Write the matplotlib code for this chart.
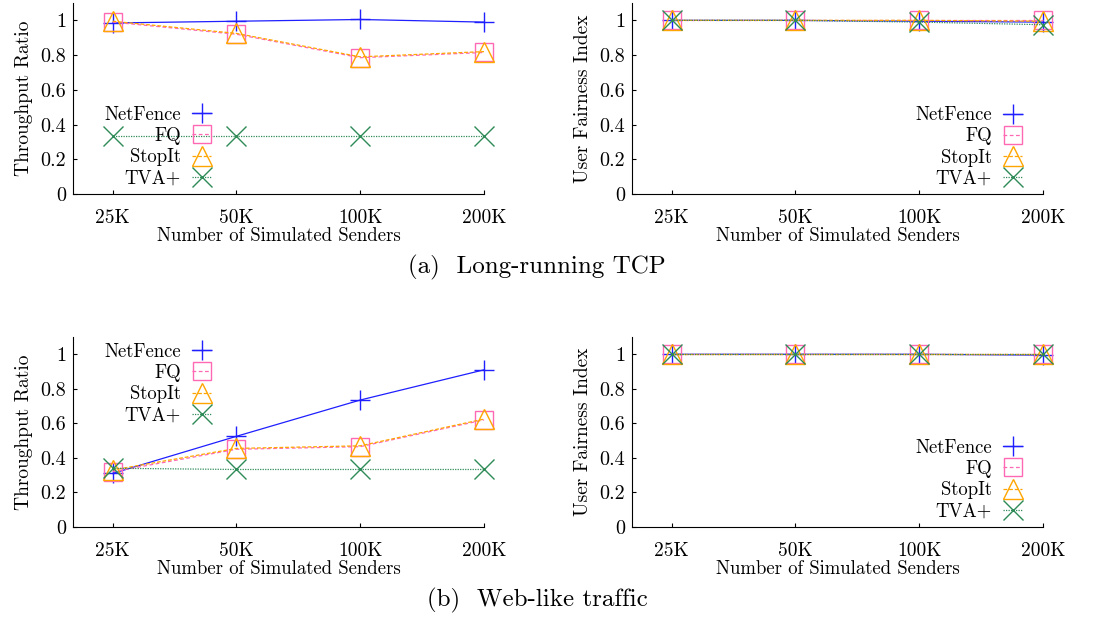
import matplotlib
matplotlib.use("Agg")
import matplotlib.pyplot as plt

plt.rcParams['font.family'] = ['cmr10', 'DejaVu Serif']
plt.rcParams['axes.formatter.use_mathtext'] = True
plt.rcParams['font.size'] = 13.5

senders = ["25K", "50K", "100K", "200K"]
schemes = ["NetFence", "FQ", "StopIt", "TVA+"]

# (a) long-running TCP
tcp_ratio = {
    "NetFence": [0.985, 0.995, 1.005, 0.99],
    "FQ": [0.99, 0.92, 0.785, 0.815],
    "StopIt": [0.995, 0.925, 0.79, 0.82],
    "TVA+": [0.333, 0.333, 0.333, 0.333],
}
tcp_fair = {
    "NetFence": [1.0, 1.0, 0.995, 0.99],
    "FQ": [1.0, 1.0, 1.0, 1.0],
    "StopIt": [1.0, 1.0, 1.0, 0.995],
    "TVA+": [1.0, 1.0, 0.99, 0.975],
}
# (b) web-like traffic
web_ratio = {
    "NetFence": [0.31, 0.525, 0.735, 0.91],
    "FQ": [0.32, 0.45, 0.465, 0.62],
    "StopIt": [0.33, 0.455, 0.47, 0.625],
    "TVA+": [0.34, 0.333, 0.333, 0.333],
}
web_fair = {
    "NetFence": [1.0, 1.0, 1.0, 0.995],
    "FQ": [1.0, 1.0, 1.0, 1.0],
    "StopIt": [1.0, 1.0, 1.0, 1.0],
    "TVA+": [1.0, 1.0, 1.0, 1.0],
}

styles = {
    "NetFence": dict(color="#1f1fff", ls="-", marker="+"),
    "FQ": dict(color="#ff69b4", ls=(0, (3, 2)), marker="s"),
    "StopIt": dict(color="#ffa500", ls=(0, (3, 1.5)), marker="^"),
    "TVA+": dict(color="#2e8b57", ls=(0, (1, 1)), marker="x"),
}
msize = {"NetFence": 15, "FQ": 13, "StopIt": 14, "TVA+": 14}

fig = plt.figure(figsize=(11.07, 6.17), dpi=100)

W, H = 1107, 617
panels = [
    (73, 194, 3, tcp_ratio, "Throughput Ratio", (211, 146.5)),
    (632, 194, 3, tcp_fair, "User Fairness Index", (1022, 147)),
    (73, 527, 337, web_ratio, "Throughput Ratio", (211, 383.5)),
    (632, 527, 337, web_fair, "User Fairness Index", (1022, 479.5)),
]

x = list(range(len(senders)))
for left, bot, top, data, ylab, leg in panels:
    width = 411
    ax = fig.add_axes([left / W, 1 - bot / H, width / W, (bot - top) / H])
    for s in schemes:
        st = styles[s]
        ax.plot(x, data[s], color=st["color"], ls=st["ls"], lw=0.9,
                marker=st["marker"], mfc="none", mec=st["color"],
                ms=msize[s], mew=1.0, label=s, clip_on=False)
    ax.set_xlim(-0.32, 3.0)
    ax.set_ylim(0, 1.1)
    ax.set_xticks(x)
    ax.set_xticklabels(senders, fontsize=14)
    ax.set_yticks([0, 0.2, 0.4, 0.6, 0.8, 1])
    ax.set_yticklabels(["0", "0.2", "0.4", "0.6", "0.8", "1"], fontsize=14.5)
    ax.spines["top"].set_visible(False)
    ax.spines["right"].set_visible(False)
    ax.tick_params(direction="in", length=3, width=0.8)
    ax.tick_params(axis="x", pad=11)
    ax.tick_params(axis="y", pad=5)
    ax.set_xlabel("Number of Simulated Senders", labelpad=0)
    ax.set_ylabel(ylab, labelpad=5, fontsize=14)
    ax.legend(loc="center right", bbox_to_anchor=(leg[0] / W, 1 - leg[1] / H),
              bbox_transform=fig.transFigure, frameon=False, markerfirst=False,
              handlelength=1.0, handletextpad=0.6, labelspacing=0.17,
              borderpad=0, borderaxespad=0)

fig.text(537 / W, 1 - 267 / H, "(a)  Long-running TCP", ha="center", va="center", fontsize=18)
fig.text(537 / W, 1 - 600 / H, "(b)  Web-like traffic", ha="center", va="center", fontsize=18)

fig.savefig("out.png", dpi=100)
